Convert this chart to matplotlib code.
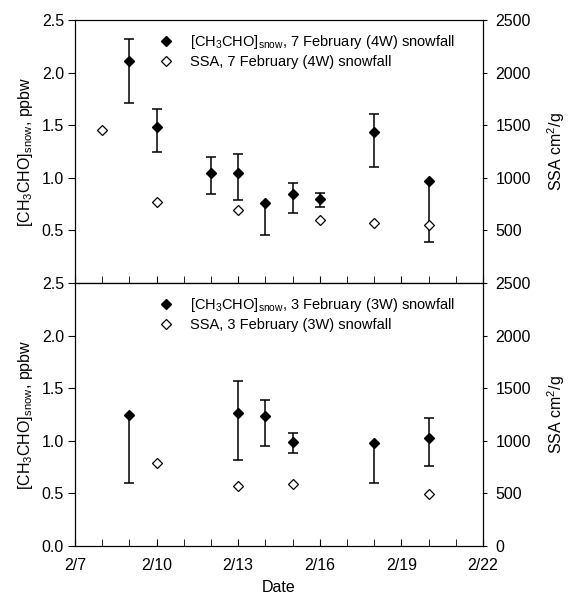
import numpy as np
import matplotlib
matplotlib.use("Agg")
import matplotlib.pyplot as plt
from matplotlib.ticker import FixedLocator, MultipleLocator, FuncFormatter
from matplotlib.lines import Line2D

plt.rcParams['font.family'] = ['Liberation Sans', 'DejaVu Sans']
plt.rcParams['font.size'] = 11
plt.rcParams['mathtext.fontset'] = 'custom'
plt.rcParams['mathtext.rm'] = 'Liberation Sans'
plt.rcParams['mathtext.it'] = 'Liberation Sans'

# day of February
# 7 February (4W) snowfall
day_4w = [9, 10, 12, 13, 14, 15, 16, 18, 20]
ch3cho_4w = [2.11, 1.48, 1.05, 1.05, 0.76, 0.85, 0.80, 1.44, 0.97]
ch3cho_4w_lo = [1.71, 1.25, 0.85, 0.79, 0.46, 0.67, 0.72, 1.10, 0.39]
ch3cho_4w_hi = [2.32, 1.65, 1.20, 1.23, 0.76, 0.95, 0.86, 1.61, 0.97]
ssa_day_4w = [8, 10, 13, 16, 18, 20]
ssa_4w = [1455, 770, 690, 598, 570, 547]

# 3 February (3W) snowfall
day_3w = [9, 13, 14, 15, 18, 20]
ch3cho_3w = [1.25, 1.26, 1.24, 0.99, 0.98, 1.03]
ch3cho_3w_lo = [0.60, 0.82, 0.95, 0.88, 0.60, 0.76]
ch3cho_3w_hi = [1.25, 1.57, 1.39, 1.07, 0.98, 1.22]
ssa_day_3w = [10, 13, 15, 20]
ssa_3w = [788, 566, 585, 497]

date_ticks = [7, 10, 13, 16, 19, 22]
left_label = r'[CH$_3$CHO]$_{\mathrm{snow}}$, ppbw'
right_label = r'SSA cm$^2$/g'

fig = plt.figure(figsize=(5.68, 6.0), dpi=100)
ax_top = fig.add_axes([75/568, 1-283/600, 408/568, 263/600])
ax_bot = fig.add_axes([75/568, 1-546/600, 408/568, 263/600], sharex=ax_top)


def draw_panel(ax, day, val, lo, hi, sday, ssa, tag, yticks, rticks):
    day = np.array(day)
    ax.vlines(day, lo, hi, color='black', lw=1.1, zorder=2)
    ax.plot(day, lo, ls='none', marker='_', ms=7, mew=1.1, color='black', zorder=2)
    has_hi = np.array(hi) > np.array(val)
    ax.plot(day[has_hi], np.array(hi)[has_hi], ls='none', marker='_', ms=7,
            mew=1.1, color='black', zorder=2)
    ax.plot(day, val, ls='none', marker='D', ms=5, color='black', zorder=3)
    ax.set_ylim(0, 2.5)
    ax.yaxis.set_major_locator(FixedLocator(yticks))
    ax.yaxis.set_major_formatter(FuncFormatter(lambda v, p: '%.1f' % v))
    ax.set_ylabel(left_label, labelpad=5, fontsize=11.5)
    ax.tick_params(axis='y', direction='out', length=5, pad=3, labelsize=11.5)

    ax2 = ax.twinx()
    ax2.plot(sday, ssa, ls='none', marker='D', ms=5, mfc='white', mec='black',
             mew=0.9, zorder=3)
    ax2.set_ylim(0, 2500)
    ax2.yaxis.set_major_locator(FixedLocator(rticks))
    ax2.set_ylabel(right_label, labelpad=10, fontsize=11.5)
    ax2.tick_params(axis='y', direction='out', length=3, pad=6, labelsize=11.5)

    handles = [
        Line2D([], [], ls='none', marker='D', ms=5, color='black'),
        Line2D([], [], ls='none', marker='D', ms=5, mfc='white', mec='black', mew=0.9),
    ]
    labels = [r'[CH$_3$CHO]$_{\mathrm{snow}}$, ' + tag + ' snowfall',
              'SSA, ' + tag + ' snowfall']
    ax.legend(handles, labels, loc='upper left', bbox_to_anchor=(0.17, 1.0),
              frameon=False, handlelength=1.2, handletextpad=1.0,
              labelspacing=0.25, fontsize=10.5)
    return ax2


draw_panel(ax_top, day_4w, ch3cho_4w, ch3cho_4w_lo, ch3cho_4w_hi,
           ssa_day_4w, ssa_4w, '7 February (4W)',
           [0.5, 1.0, 1.5, 2.0, 2.5], [500, 1000, 1500, 2000, 2500])
draw_panel(ax_bot, day_3w, ch3cho_3w, ch3cho_3w_lo, ch3cho_3w_hi,
           ssa_day_3w, ssa_3w, '3 February (3W)',
           [0.0, 0.5, 1.0, 1.5, 2.0, 2.5], [0, 500, 1000, 1500, 2000, 2500])

ax_bot.set_xlim(7, 22)
ax_bot.xaxis.set_major_locator(FixedLocator(date_ticks))
ax_bot.xaxis.set_minor_locator(MultipleLocator(1))
ax_bot.xaxis.set_major_formatter(FuncFormatter(lambda v, p: '2/%d' % v))
for ax in (ax_top, ax_bot):
    ax.tick_params(axis='x', which='both', direction='in', length=5, pad=9,
                   labelsize=11.5)
plt.setp(ax_top.get_xticklabels(), visible=False)
ax_bot.set_xlabel('Date', labelpad=5, fontsize=11.5)

fig.savefig('out.png', dpi=100)
